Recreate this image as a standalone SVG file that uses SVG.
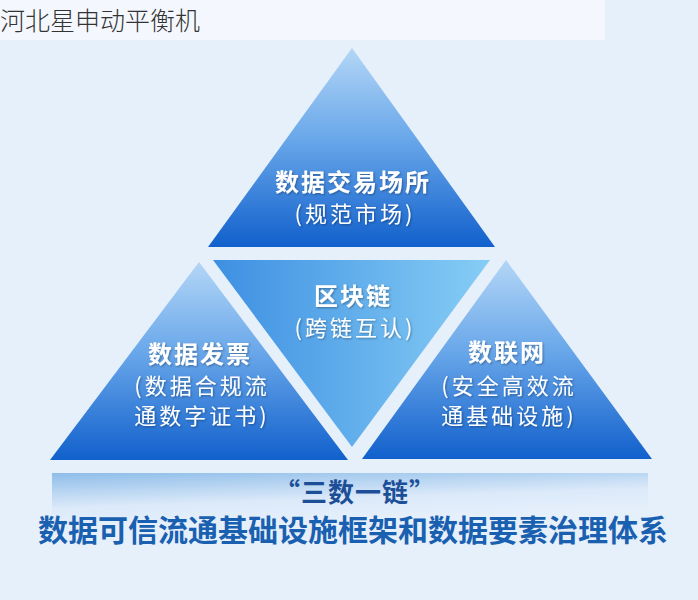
<svg xmlns="http://www.w3.org/2000/svg" width="698" height="600" viewBox="0 0 698 600">
<defs>
<linearGradient id="tri" x1="0" y1="0" x2="0" y2="1">
<stop offset="0" stop-color="#b4d6f6"/>
<stop offset="0.45" stop-color="#6aa8ea"/>
<stop offset="1" stop-color="#1160cc"/>
</linearGradient>
<linearGradient id="mid" x1="0" y1="0" x2="1" y2="0">
<stop offset="0" stop-color="#3d8fe2"/>
<stop offset="1" stop-color="#86cdf5"/>
</linearGradient>
<linearGradient id="band" x1="0" y1="0" x2="0.4" y2="1">
<stop offset="0" stop-color="#8ebde9"/>
<stop offset="0.6" stop-color="#dbe9f9"/>
<stop offset="1" stop-color="#e6f0fb"/>
</linearGradient>
<filter id="sh" x="-10%" y="-10%" width="120%" height="130%">
<feGaussianBlur in="SourceAlpha" stdDeviation="1"/>
<feOffset dx="1" dy="1"/>
<feComponentTransfer><feFuncA type="linear" slope="0.35"/></feComponentTransfer>
<feMerge><feMergeNode/><feMergeNode in="SourceGraphic"/></feMerge>
</filter>
</defs>
<style>
.t{font-family:"Noto Sans CJK SC","Noto Sans",sans-serif;fill:#ffffff;text-anchor:middle}
.h{font-size:24px;font-weight:700;letter-spacing:2px}
.s{font-size:22px;font-weight:400;letter-spacing:3px}
.b{font-family:"Noto Sans CJK SC","Noto Sans",sans-serif;font-weight:700;text-anchor:middle}
</style>
<rect width="698" height="600" fill="#e6f0fb"/>
<rect x="0" y="0" width="605" height="40" fill="#f4f8fe"/>
<text x="0" y="30" font-family="Noto Sans CJK SC, sans-serif" font-size="25" font-weight="300" fill="#333333">河北星申动平衡机</text>
<g id="top">
<polygon points="352,48 208,247 495,247" fill="url(#tri)"/>
<text class="t h" x="353" y="191" filter="url(#sh)">数据交易场所</text>
<text class="t s" x="355" y="222" filter="url(#sh)">(规范市场)</text>
</g>
<g id="middle">
<polygon points="213,260 490,260 352,447" fill="url(#mid)"/>
<text class="t h" x="353" y="305" filter="url(#sh)">区块链</text>
<text class="t s" x="355" y="336" filter="url(#sh)">(跨链互认)</text>
</g>
<g id="left">
<polygon points="199,262 50,460 348,460" fill="url(#tri)"/>
<text class="t h" x="200" y="363" filter="url(#sh)">数据发票</text>
<text class="t s" x="202" y="394" filter="url(#sh)">(数据合规流</text>
<text class="t s" x="202" y="424" filter="url(#sh)">通数字证书)</text>
</g>
<g id="right">
<polygon points="506,260 362,459 652,459" fill="url(#tri)"/>
<text class="t h" x="507" y="361" filter="url(#sh)">数联网</text>
<text class="t s" x="509" y="394" filter="url(#sh)">(安全高效流</text>
<text class="t s" x="509" y="424" filter="url(#sh)">通基础设施)</text>
</g>
<g id="base">
<rect x="52" y="473" width="596" height="50" fill="url(#band)"/>
<text class="b" x="355" y="502" font-size="26" fill="#1c4f98" letter-spacing="1">“三数一链”</text>
<text class="b" x="353" y="541" font-size="30" fill="#1a60b0">数据可信流通基础设施框架和数据要素治理体系</text>
</g>
<g id="connectors"/>
</svg>
